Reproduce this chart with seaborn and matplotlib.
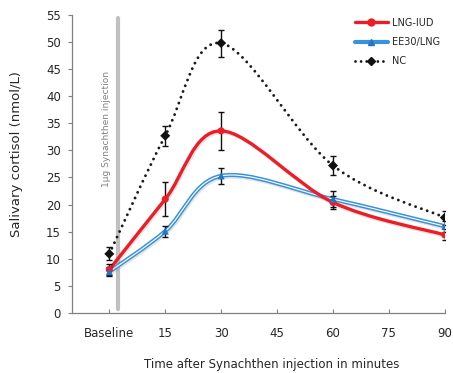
import numpy as np
import pandas as pd
import matplotlib
matplotlib.use("Agg")
import matplotlib.pyplot as plt
import seaborn as sns
from matplotlib.path import Path
from matplotlib.patches import PathPatch
from matplotlib.lines import Line2D
import matplotlib.patheffects as pe

# ---- data ----
times = [0, 15, 30, 60, 90]
tick_pos = [0, 15, 30, 45, 60, 75, 90]
tick_labels = ["Baseline", "15", "30", "45", "60", "75", "90"]

lng_iud = [8.0, 21.0, 33.6, 20.4, 14.4]
lng_iud_err = [1.0, 3.1, 3.5, 1.2, 1.0]
ee30 = [7.6, 15.1, 25.3, 21.0, 16.0]
ee30_err = [0.8, 1.0, 1.5, 1.5, 1.0]
nc = [10.9, 32.7, 49.8, 27.2, 17.6]
nc_err = [1.2, 1.8, 2.5, 1.75, 1.3]

series_names = ["LNG-IUD", "EE30/LNG", "NC"]

sns.set_style("white")
plt.rcParams['font.family'] = ['DejaVu Sans']

fig = plt.figure(figsize=(4.53, 3.73), dpi=100)
ax = fig.add_axes([0.159, 0.161, 0.823, 0.799])

def smooth_path(xs, ys):
    pts = np.column_stack([xs, ys]).astype(float)
    n = len(pts)
    verts = [pts[0]]
    codes = [Path.MOVETO]
    for i in range(n - 1):
        p0 = pts[i - 1] if i > 0 else pts[i]
        p1 = pts[i]
        p2 = pts[i + 1]
        p3 = pts[i + 2] if i + 2 < n else pts[i + 1]
        c1 = p1 + (p2 - p0) / 6.0
        c2 = p2 - (p3 - p1) / 6.0
        verts += [c1, c2, p2]
        codes += [Path.CURVE4] * 3
    return Path(verts, codes)

shadow = [pe.SimpleLineShadow(offset=(0.8, -1.2), shadow_color='#999999', alpha=0.25), pe.Normal()]

# smoothed lines
ax.add_patch(PathPatch(smooth_path(times, nc), fill=False, edgecolor='#1a1a1a', lw=2.1,
                       linestyle=(0, (0.01, 2.1)), capstyle='round', zorder=3))
ax.add_patch(PathPatch(smooth_path(times, ee30), fill=False, edgecolor='#3a93d8', lw=3.0,
                       path_effects=shadow, zorder=3))
ax.add_patch(PathPatch(smooth_path(times, ee30), fill=False, edgecolor='white', lw=0.8, zorder=3.1))
ax.add_patch(PathPatch(smooth_path(times, lng_iud), fill=False, edgecolor='#ee1c25', lw=2.4,
                       path_effects=shadow, zorder=3.2))

# error bars
for vals, errs in [(nc, nc_err), (lng_iud, lng_iud_err), (ee30, ee30_err)]:
    ax.errorbar(times, vals, yerr=errs, fmt='none', ecolor='#111111', elinewidth=1.0,
                capsize=2.5, capthick=1.0, zorder=4)

# markers through seaborn
df = pd.DataFrame({
    "time": times * 3,
    "value": lng_iud + ee30 + nc,
    "group": [series_names[0]] * 5 + [series_names[1]] * 5 + [series_names[2]] * 5,
})
palette = {"LNG-IUD": "#ee1c25", "EE30/LNG": "#1f78c8", "NC": "#111111"}
markers = {"LNG-IUD": "o", "EE30/LNG": "^", "NC": "D"}
sns.scatterplot(data=df, x="time", y="value", hue="group", style="group", palette=palette,
                markers=markers, s=26, edgecolor=None, linewidth=0, legend=False, ax=ax, zorder=5)

# injection marker
ax.axvline(2.2, ymin=0.012, ymax=0.99, color='#c0c0c0', lw=3, zorder=1)
ax.text(-0.8, 34, "1\u03bcg Synachthen injection", rotation=90, ha='center', va='center',
        fontsize=6.5, color='#808080')

ax.set_xlim(-10, 90)
ax.set_ylim(0, 55)
ax.set_xticks(tick_pos)
ax.set_xticklabels(tick_labels)
ax.set_yticks(np.arange(0, 56, 5))
for s in ['top', 'right']:
    ax.spines[s].set_visible(False)
for s in ['left', 'bottom']:
    ax.spines[s].set_color('#808080')
    ax.spines[s].set_linewidth(0.9)
ax.tick_params(axis='y', direction='out', length=3, color='#808080', labelsize=8.5, pad=5, left=True)
ax.tick_params(axis='x', direction='in', length=3, color='#808080', labelsize=8.5, pad=10, bottom=True)
ax.set_xlabel("Time after Synachthen injection in minutes", fontsize=8.5)
ax.xaxis.set_label_coords(0.536, -0.152)
ax.set_ylabel("Salivary cortisol (nmol/L)", fontsize=9.5)
ax.yaxis.set_label_coords(-0.131, 0.534)

# legend
h1 = Line2D([], [], color='#ee1c25', lw=2.4, marker='o', markersize=5)
h2 = Line2D([], [], color='#3a93d8', lw=3, marker='^', markersize=5, markerfacecolor='#1f78c8',
            markeredgecolor='#1f78c8')
h3 = Line2D([], [], color='#111111', lw=2.0, linestyle=(0, (0.01, 2.0)), dash_capstyle='round',
            marker='D', markersize=4)
ax.legend([h1, h2, h3], series_names, loc='upper right', bbox_to_anchor=(1.01, 1.02),
          frameon=False, fontsize=7, handlelength=3.4, labelspacing=0.95, handletextpad=0.4)

fig.savefig("out.png", dpi=100)
